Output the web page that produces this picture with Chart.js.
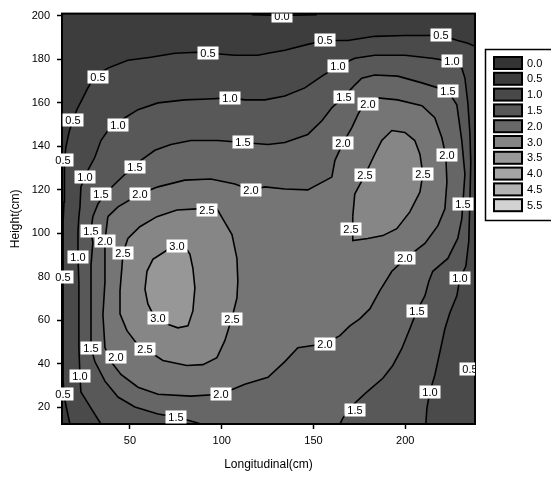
<!DOCTYPE html>
<html>
<head>
<meta charset="utf-8">
<script src="https://cdn.jsdelivr.net/npm/chart.js@4/dist/chart.umd.min.js"></script>
<style>
  html, body { margin: 0; padding: 0; background: #fff; }
  #wrap { width: 551px; height: 481px; }
</style>
</head>
<body>
<div id="wrap"><canvas id="c" width="551" height="481"></canvas></div>
<script>
// Axis domain (cm) and tick values
const xMin = 13, xMax = 238, yMin = 12.4, yMax = 201.05;
const xTicks = [50, 100, 150, 200];
const yTicks = [20, 40, 60, 80, 100, 120, 140, 160, 180, 200];

// Contour paths: [longitudinal, height] in cm. Paths that meet the plot
// border are closed along the border so the region above the level is inside.
const path00 = [[116.4, 200.6], [127.8, 200.3], [139.3, 200.3], [151.8, 200.6]];
const path05 = [[17.3, yMin], [15.7, 18.8], [14.1, 25.6], [13.6, 32.5], [13.6, 58.4], [13.6, 105.4],
  [14.1, 114.5], [14.1, 125.9], [14.6, 132.7], [15.1, 139.5], [16.8, 146.4], [19.0, 152.3],
  [21.1, 156.9], [24.4, 162.3], [27.1, 166.9], [30.4, 171.4], [33.7, 173.7], [38.0, 176.0],
  [48.9, 179.6], [61.4, 181.0], [74.5, 182.8], [87.0, 183.3], [93.6, 182.8], [107.2, 181.9],
  [119.7, 181.9], [125.2, 182.8], [134.4, 184.2], [146.9, 186.9], [156.2, 188.7], [168.7, 188.7],
  [183.4, 190.6], [199.8, 191.0], [214.5, 191.0], [219.9, 191.0], [228.6, 188.7], [234.1, 187.4],
  [xMax, 186.0], [xMax, yMin]];
const path10 = [[34.2, yMin], [28.8, 19.7], [23.3, 27.1], [22.8, 34.3], [22.2, 47.5], [22.2, 62.6],
  [22.2, 77.6], [21.7, 89.0], [21.7, 101.0], [22.2, 107.7], [22.8, 112.2], [23.3, 121.4],
  [25.5, 125.9], [27.1, 129.0], [30.9, 135.0], [34.2, 142.7], [38.0, 147.3], [43.5, 150.0],
  [47.3, 153.2], [54.4, 156.9], [65.3, 160.0], [79.9, 161.4], [92.5, 161.8], [104.5, 162.3],
  [112.6, 161.4], [123.5, 161.4], [134.4, 163.2], [145.3, 166.9], [154.6, 172.3], [163.3, 176.9],
  [172.5, 180.5], [183.4, 181.9], [199.8, 181.9], [214.5, 180.5], [224.3, 179.2], [230.8, 176.0],
  [232.5, 171.4], [234.1, 160.0], [235.2, 146.4], [235.7, 132.7], [235.2, 114.5], [234.6, 96.3],
  [233.0, 84.9], [229.7, 79.0], [228.1, 71.3], [224.3, 63.5], [221.6, 56.2], [218.8, 45.2],
  [216.1, 34.8], [213.4, 27.1], [211.8, 19.7], [211.2, yMin]];
const path15 = [[88.7, yMin], [83.2, 13.8], [75.1, 15.6], [65.3, 17.0], [52.7, 20.2], [43.5, 24.8],
  [36.4, 32.1], [30.9, 41.1], [28.8, 47.5], [28.8, 54.8], [28.8, 70.3], [28.8, 85.3], [29.8, 95.8],
  [28.8, 101.3], [29.8, 107.7], [32.6, 113.6], [36.4, 118.1], [41.8, 122.7], [47.3, 127.2],
  [52.7, 130.4], [56.0, 133.6], [63.6, 138.2], [72.3, 140.9], [83.2, 142.7], [97.9, 142.7],
  [111.5, 141.8], [125.2, 140.9], [134.4, 141.8], [146.9, 145.5], [154.6, 151.8], [160.0, 157.8],
  [166.5, 162.8], [172.5, 168.2], [176.3, 171.4], [183.4, 172.8], [195.9, 172.3], [209.1, 169.2],
  [223.2, 165.5], [228.1, 159.1], [230.8, 142.7], [232.5, 127.2], [231.4, 113.6], [230.8, 106.7],
  [228.6, 97.7], [223.2, 88.5], [215.0, 82.6], [212.9, 78.1], [210.7, 71.3], [206.3, 64.4],
  [202.5, 56.2], [198.1, 47.0], [193.2, 39.3], [187.8, 33.4], [179.0, 27.1], [171.4, 21.1],
  [166.0, 15.1], [164.4, yMin]];
const path20 = [[38.0, 107.7], [36.4, 96.7], [36.4, 77.6], [35.3, 62.6], [36.4, 47.5], [39.7, 41.1],
  [45.1, 35.2], [54.4, 29.3], [65.3, 26.1], [83.2, 25.2], [99.5, 26.1], [112.6, 30.7], [125.2, 33.9],
  [134.4, 41.1], [141.5, 47.5], [156.2, 49.3], [164.4, 53.0], [169.8, 57.5], [175.2, 60.7],
  [180.7, 65.3], [186.1, 73.6], [192.7, 82.6], [200.9, 89.0], [210.7, 95.4], [217.8, 103.6],
  [221.6, 111.3], [222.7, 123.6], [222.1, 135.9], [219.9, 144.1], [216.1, 153.2], [209.1, 158.7],
  [195.9, 161.4], [185.1, 162.3], [179.0, 159.1], [176.3, 157.8], [174.2, 154.6], [170.9, 148.6],
  [166.0, 141.4], [161.7, 133.6], [160.0, 125.9], [146.9, 120.0], [134.4, 120.4], [123.5, 121.4],
  [115.9, 120.0], [107.2, 122.7], [94.1, 125.0], [79.9, 124.5], [65.3, 121.4], [55.4, 118.1],
  [43.5, 112.2]];
const path25west = [[86.5, 111.3], [75.6, 110.8], [64.7, 107.7], [55.4, 103.1], [48.9, 97.7],
  [46.2, 90.9], [45.6, 84.0], [44.6, 73.6], [44.6, 63.0], [48.4, 55.3], [53.8, 49.3], [58.2, 47.0],
  [68.0, 41.6], [81.0, 39.3], [89.8, 39.7], [97.4, 42.9], [101.7, 50.7], [105.6, 61.2], [108.3, 70.3],
  [108.8, 78.1], [108.3, 88.5], [105.6, 99.5], [100.6, 106.7], [97.4, 111.3], [92.0, 111.5]];
const path25east = [[171.4, 107.7], [172.5, 118.1], [178.0, 126.8], [183.4, 136.4], [187.2, 142.7],
  [192.7, 147.3], [199.8, 146.4], [205.2, 142.7], [208.0, 136.4], [209.6, 127.2], [208.0, 119.0],
  [202.5, 109.9], [195.4, 102.2], [187.8, 99.0], [179.6, 97.7], [171.4, 96.7]];
const path30 = [[69.1, 91.7], [62.5, 88.1], [59.3, 82.6], [58.2, 74.4], [59.8, 67.6], [62.5, 63.0],
  [70.2, 58.4], [76.1, 56.6], [81.6, 57.5], [84.3, 64.4], [85.4, 74.9], [84.3, 84.0], [82.7, 90.4],
  [79.9, 94.0], [74.5, 94.9]];

// Where each level's value is written along its line
const marks00 = [[132.8, 200.0]];
const marks05 = [[92.5, 182.8], [156.2, 188.7], [219.4, 191.0], [32.6, 171.9], [19.0, 152.3],
  [13.5, 133.6], [13.5, 79.9], [13.5, 26.1], [235.2, 37.5]];
const marks10 = [[104.5, 162.3], [163.3, 176.9], [225.4, 179.2], [43.5, 150.0], [25.5, 125.9],
  [21.7, 89.0], [22.8, 34.3], [229.7, 79.5], [213.4, 27.1]];
const marks15 = [[111.5, 141.8], [166.5, 162.8], [223.2, 165.5], [52.7, 130.4], [34.2, 118.1],
  [28.8, 101.3], [28.8, 47.5], [75.1, 15.6], [231.4, 113.6], [206.3, 64.4], [172.5, 18.8]];
const marks20 = [[115.9, 120.0], [179.6, 159.6], [166.0, 141.4], [55.4, 118.1], [222.7, 135.9],
  [36.4, 96.7], [42.4, 43.4], [99.5, 26.1], [156.2, 49.3], [199.8, 88.5]];
const marks25 = [[91.9, 110.8], [46.2, 90.8], [58.2, 47.0], [105.6, 60.7], [170.4, 102.2],
  [178.0, 126.8], [209.6, 127.2]];
const marks30 = [[75.6, 94.0], [65.3, 61.2]];

// Legend entries
const legendLevels = ['0.0', '0.5', '1.0', '1.5', '2.0', '3.0', '3.5', '4.0', '4.5', '5.5'];
const legendShades = ['#333333', '#3d3d3d', '#484848', '#585858', '#686868', '#858585',
  '#999999', '#a5a5a5', '#b4b4b4', '#d2d2d2'];

const FONT = "'Liberation Sans', Arial, sans-serif";
const baseShade = '#3d3d3d';

// One layer per contour, lowest level first, each filled with the band above it
const contours = [
  { level: 0.5, path: path05, marks: marks05, shade: '#4a4a4a' },
  { level: 1.0, path: path10, marks: marks10, shade: '#585858' },
  { level: 1.5, path: path15, marks: marks15, shade: '#666666' },
  { level: 2.0, path: path20, marks: marks20, shade: '#757575' },
  { level: 2.5, path: path25west, marks: marks25, shade: '#868686' },
  { level: 2.5, path: path25east, marks: [], shade: '#868686' },
  { level: 3.0, path: path30, marks: marks30, shade: '#979797' },
  { level: 0.0, path: path00, marks: marks00, shade: null }
];

const datasets = contours.map((c, i) => {
  const pts = c.shade ? c.path.concat([c.path[0]]) : c.path;
  return {
    label: c.level.toFixed(1),
    data: pts.map(([x, y]) => ({ x, y })),
    showLine: true,
    fill: c.shade ? 'shape' : false,
    backgroundColor: c.shade || 'rgba(0,0,0,0)',
    borderColor: '#000',
    borderWidth: 1.6,
    pointRadius: 0,
    pointHoverRadius: 0,
    tension: 0,
    order: contours.length - i
  };
});

const plotBackground = {
  id: 'plotBackground',
  beforeDatasetsDraw(chart) {
    const { ctx, chartArea: a } = chart;
    ctx.save();
    ctx.fillStyle = baseShade;
    ctx.fillRect(a.left, a.top, a.right - a.left, a.bottom - a.top);
    ctx.restore();
  }
};

const frameAndLabels = {
  id: 'frameAndLabels',
  afterDatasetsDraw(chart) {
    const { ctx, chartArea: a, scales: { x, y } } = chart;
    ctx.save();
    ctx.strokeStyle = '#000';
    ctx.lineWidth = 2;
    ctx.strokeRect(a.left, a.top, a.right - a.left, a.bottom - a.top);
    ctx.beginPath();
    ctx.rect(a.left - 12, a.top, a.right - a.left + 12, a.bottom - a.top + 2);
    ctx.clip();
    ctx.font = '11px ' + FONT;
    ctx.textAlign = 'center';
    ctx.textBaseline = 'middle';
    contours.forEach(c => {
      const txt = c.level.toFixed(1);
      c.marks.forEach(([vx, vy]) => {
        const px = Math.round(x.getPixelForValue(vx));
        const py = Math.round(y.getPixelForValue(vy));
        ctx.fillStyle = '#fff';
        ctx.fillRect(px - 10.5, py - 6.5, 21, 13);
        ctx.fillStyle = '#000';
        ctx.fillText(txt, px, py + 0.5);
      });
    });
    ctx.restore();
  }
};

const levelLegend = {
  id: 'levelLegend',
  afterDraw(chart) {
    const ctx = chart.ctx;
    ctx.save();
    ctx.strokeStyle = '#000';
    ctx.lineWidth = 1.5;
    ctx.strokeRect(485.5, 49.5, 90, 171);
    ctx.font = '11px ' + FONT;
    ctx.textAlign = 'left';
    ctx.textBaseline = 'middle';
    legendLevels.forEach((t, i) => {
      const top = 57 + i * 15.8;
      ctx.fillStyle = legendShades[i];
      ctx.fillRect(494, top, 28, 12);
      ctx.lineWidth = 2;
      ctx.strokeStyle = '#000';
      ctx.strokeRect(494, top, 28, 12);
      ctx.fillStyle = '#000';
      ctx.fillText(t, 527, top + 6.5);
    });
    ctx.restore();
  }
};

new Chart(document.getElementById('c'), {
  type: 'scatter',
  data: { datasets },
  options: {
    responsive: false,
    devicePixelRatio: 1,
    animation: false,
    events: [],
    layout: { padding: { top: 10, right: 76, bottom: 0, left: 0 } },
    plugins: { legend: { display: false }, tooltip: { enabled: false } },
    scales: {
      x: {
        type: 'linear',
        min: xMin,
        max: xMax,
        afterBuildTicks: s => { s.ticks = xTicks.map(v => ({ value: v })); },
        afterFit: s => { s.height = 57; },
        grid: { drawOnChartArea: false, drawTicks: true, tickLength: 5, tickColor: '#000', tickWidth: 1.5 },
        border: { display: true, color: '#000', width: 2 },
        ticks: { color: '#000', font: { family: FONT, size: 11 }, padding: 5, maxRotation: 0, autoSkip: false },
        title: { display: true, text: 'Longitudinal(cm)', color: '#000', font: { family: FONT, size: 12 }, padding: { top: 0, bottom: 9 } }
      },
      y: {
        type: 'linear',
        min: yMin,
        max: yMax,
        afterBuildTicks: s => { s.ticks = yTicks.map(v => ({ value: v })); },
        afterFit: s => { s.width = 62; },
        grid: { drawOnChartArea: false, drawTicks: true, tickLength: 5, tickColor: '#000', tickWidth: 1.5 },
        border: { display: true, color: '#000', width: 2 },
        ticks: { color: '#000', font: { family: FONT, size: 11 }, padding: 7, autoSkip: false },
        title: { display: true, text: 'Height(cm)', color: '#000', font: { family: FONT, size: 12 }, padding: { top: 8, bottom: 0 } }
      }
    }
  },
  plugins: [plotBackground, frameAndLabels, levelLegend]
});
</script>
</body>
</html>
